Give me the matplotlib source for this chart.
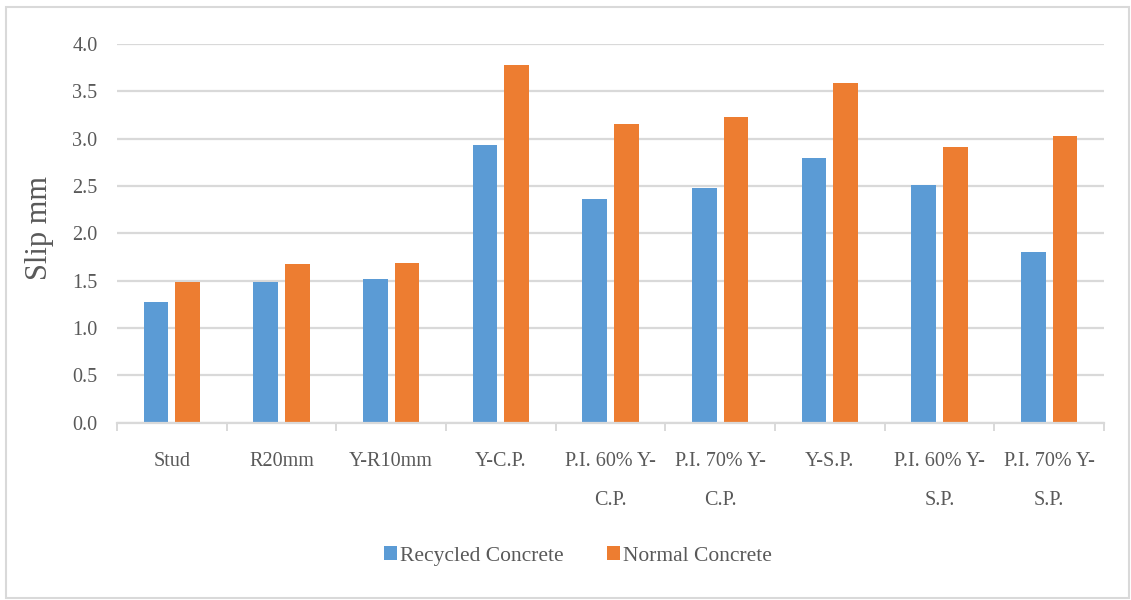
import matplotlib
matplotlib.use("Agg")
import matplotlib.pyplot as plt
import numpy as np
from matplotlib.patches import Rectangle

categories = ["Stud", "R20mm", "Y-R10mm", "Y-C.P.", "P.I. 60% Y-\nC.P.", "P.I. 70% Y-\nC.P.",
              "Y-S.P.", "P.I. 60% Y-\nS.P.", "P.I. 70% Y-\nS.P."]
recycled = [1.27, 1.49, 1.52, 2.93, 2.36, 2.48, 2.80, 2.51, 1.80]
normal = [1.49, 1.67, 1.69, 3.78, 3.15, 3.23, 3.59, 2.91, 3.03]
series_names = ["Recycled Concrete", "Normal Concrete"]
yticks = [0.0, 0.5, 1.0, 1.5, 2.0, 2.5, 3.0, 3.5, 4.0]

plt.rcParams['font.family'] = ['Liberation Serif', 'DejaVu Serif']
text_color = "#595959"
grid_color = "#D9D9D9"

fig = plt.figure(figsize=(11.31, 6.0), dpi=100)
fig.patches.append(Rectangle((6/1131, 2/600), 1123/1131, 591/600, transform=fig.transFigure,
                             fill=False, edgecolor=grid_color, linewidth=1.5))
ax = fig.add_axes([117/1131, (600-422.5)/600, (1104-117)/1131, (422.5-44)/600])

x = np.arange(len(categories))
w = 0.225
off = 0.145
ax.bar(x - off, recycled, width=w, color="#5B9BD5", label=series_names[0], zorder=3)
ax.bar(x + off, normal, width=w, color="#ED7D31", label=series_names[1], zorder=3)

ax.set_xlim(-0.5, len(categories) - 0.5)
ax.set_ylim(0, 4.0)
ax.set_yticks(yticks)
ax.set_yticklabels([f"{v:.1f}" for v in yticks])
ax.yaxis.grid(True, color=grid_color, linewidth=1.6, zorder=0)
ax.tick_params(axis='y', length=0, pad=14, labelsize=14.5, labelcolor=text_color)

ax.set_xticks(x)
ax.set_xticklabels(categories, linespacing=2.45)
ax.set_xticks(np.arange(-0.5, len(categories)), minor=True)
ax.tick_params(axis='x', which='major', length=0, pad=21, labelsize=14.5, labelcolor=text_color)
ax.tick_params(axis='x', which='minor', length=5.5, width=1.4, color=grid_color)

for s in ['top', 'right', 'left']:
    ax.spines[s].set_visible(False)
ax.spines['bottom'].set_color(grid_color)
ax.spines['bottom'].set_linewidth(1.6)
ax.spines['bottom'].set_zorder(4)

ax.set_ylabel("Slip mm", fontsize=22, color=text_color)
ax.yaxis.set_label_coords(-0.064, 0.515)

leg = fig.legend(loc='center', bbox_to_anchor=(578/1131, 1 - 556/600), ncol=2, frameon=False,
                 fontsize=15.5, handlelength=0.6, handleheight=0.6, handletextpad=0.15,
                 columnspacing=2.0)
for t in leg.get_texts():
    t.set_color(text_color)

fig.savefig("out.png", dpi=100)
